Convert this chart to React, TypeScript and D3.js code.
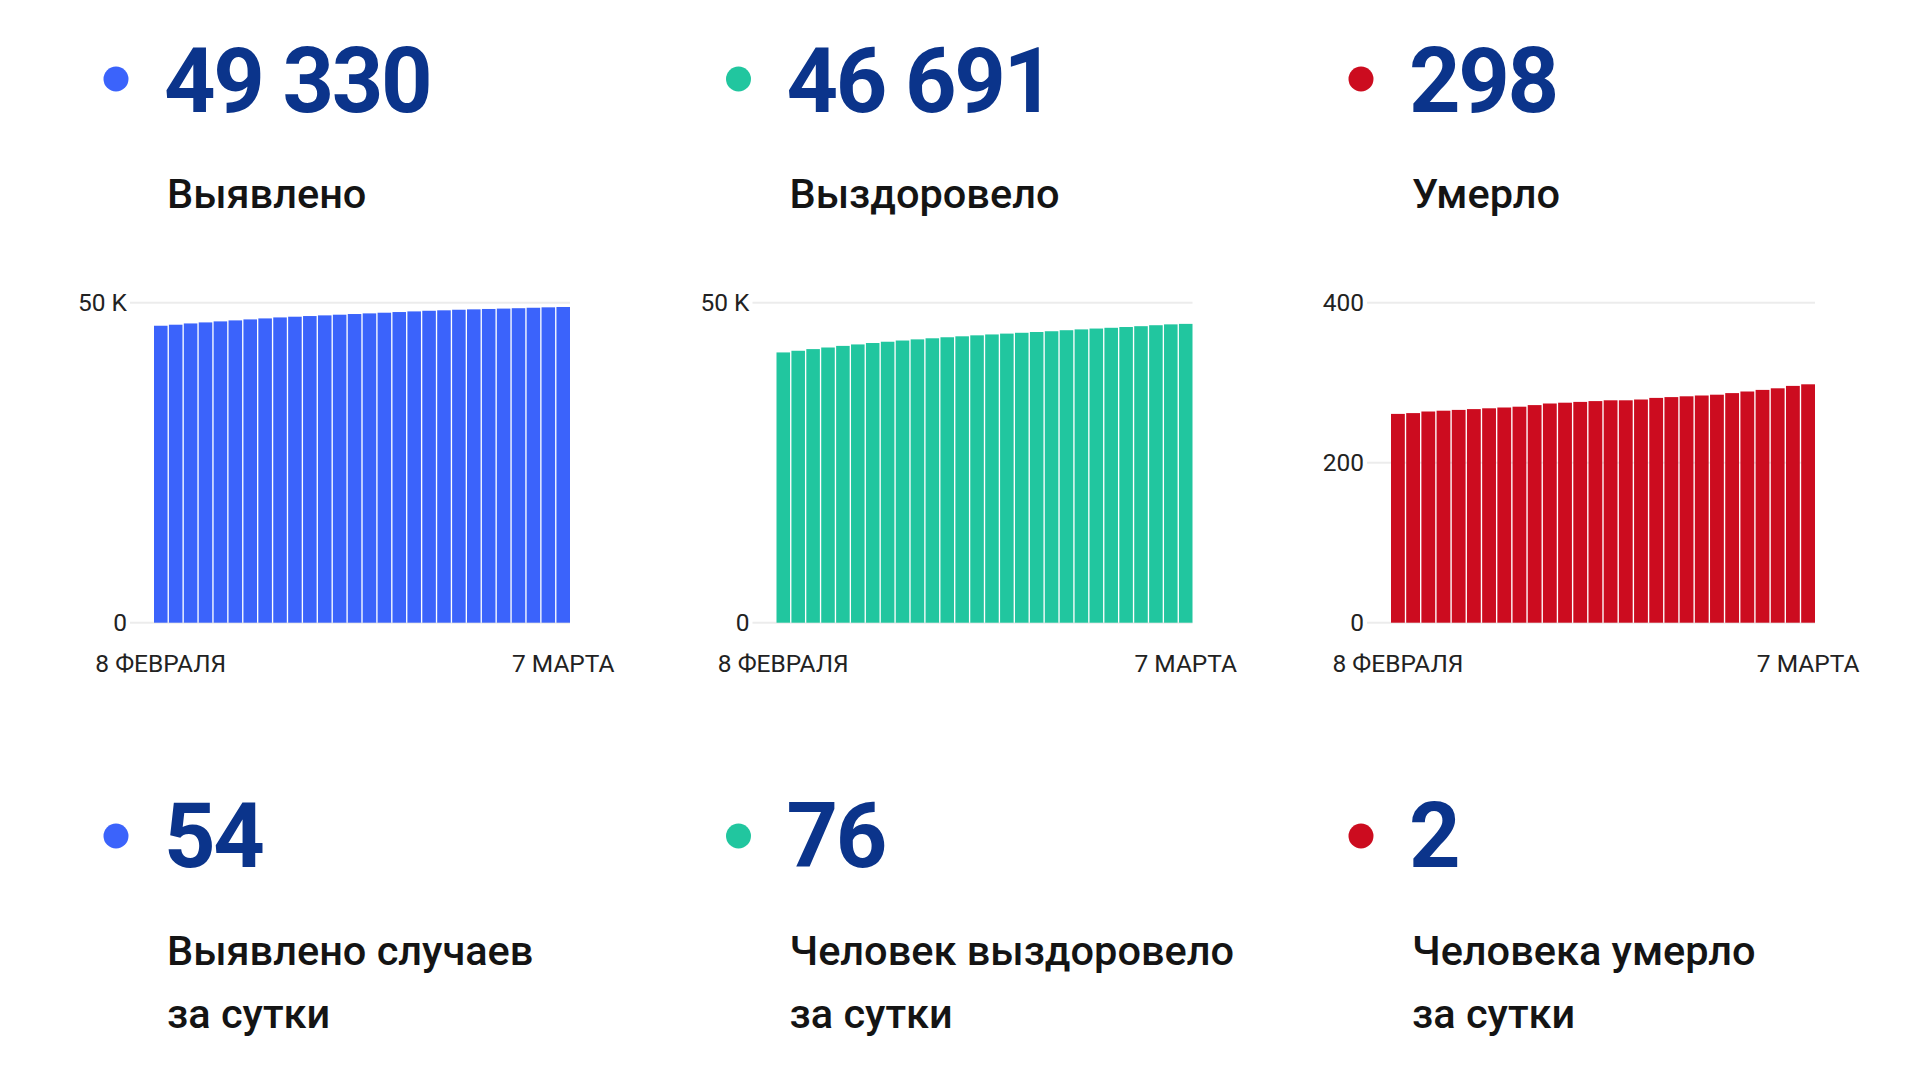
import React from "react";
import * as d3 from "d3";

const dates: Date[] = d3.timeDay.range(new Date(2021, 1, 8), new Date(2021, 2, 8));

const detected = [46400, 46560, 46760, 46920, 47080, 47235, 47390, 47545, 47700, 47810, 47915, 48020, 48125, 48230, 48330, 48435, 48540, 48640, 48740, 48810, 48900, 48960, 49020, 49080, 49140, 49210, 49276, 49330];
const recovered = [42230, 42490, 42750, 43000, 43250, 43480, 43700, 43900, 44090, 44270, 44440, 44600, 44750, 44900, 45040, 45170, 45300, 45420, 45540, 45700, 45830, 45960, 46080, 46200, 46330, 46480, 46615, 46691];
const died = [261, 262, 264, 265, 266, 267, 268, 269, 270, 272, 274, 275, 276, 277, 278, 278, 279, 281, 282, 283, 284, 285, 287, 289, 291, 293, 296, 298];

const totals = ["49 330", "46 691", "298"];
const totalLabels = ["Выявлено", "Выздоровело", "Умерло"];
const daily = ["54", "76", "2"];
const dailyLabels = [
  ["Выявлено случаев", "за сутки"],
  ["Человек выздоровело", "за сутки"],
  ["Человека умерло", "за сутки"],
];
const yMaxes = [50000, 50000, 400];
const yTicks = [[0, 50000], [0, 50000], [0, 200, 400]];
const yTickLabels = [["0", "50 K"], ["0", "50 K"], ["0", "200", "400"]];
const xLabels = ["8 ФЕВРАЛЯ", "7 МАРТА"];
const colors = ["#3b63fb", "#21c69f", "#cc0c1f"];
const series = [detected, recovered, died];

const NUM_COLOR = "#0b348b";
const FONT = "Roboto, 'Noto Sans', sans-serif";
const LABEL_SIZE = 41.5;
const AXIS_SIZE = 24.5;

function Panel({ idx }: { idx: number }) {
  const px = idx * 622.5;
  const data = series[idx];
  const color = colors[idx];
  const labelRight = idx === 2 ? 118 : 126;
  const gridStart = labelRight + 4;
  const barStart = gridStart + 24;
  const barEnd = 570;
  const y = d3.scaleLinear().domain([0, yMaxes[idx]]).range([622.7, 302.7]);
  const x = d3
    .scaleBand<number>()
    .domain(d3.range(data.length))
    .range([barStart, barEnd])
    .paddingInner(0.09)
    .paddingOuter(0);
  const fmt = d3.timeFormat("%d");
  return (
    <g transform={`translate(${px},0)`}>
      <circle cx={116} cy={79} r={12.5} fill={color} />
      <text x={164} y={112} fontFamily={FONT} fontWeight={700} fontSize={90} fill={NUM_COLOR} letterSpacing={-2.4}>
        {totals[idx]}
      </text>
      <text x={167} y={208} fontFamily={FONT} fontWeight={500} fontSize={LABEL_SIZE} fill="#141414">
        {totalLabels[idx]}
      </text>
      {yTicks[idx].map((t, i) => (
        <g key={t}>
          <line x1={gridStart} x2={barEnd} y1={y(t)} y2={y(t)} stroke="#ececec" strokeWidth={2} />
          <text x={labelRight + 1} y={y(t) + 8.5} textAnchor="end" fontFamily={FONT} fontSize={AXIS_SIZE} fill="#222">
            {yTickLabels[idx][i]}
          </text>
        </g>
      ))}
      {data.map((v, i) => (
        <rect
          key={fmt(dates[i]) + i}
          x={x(i)}
          y={y(v)}
          width={x.bandwidth()}
          height={y(0) - y(v)}
          fill={color}
        />
      ))}
      <text x={(x(0) as number) + x.bandwidth() / 2} y={672} textAnchor="middle" fontFamily={FONT} fontSize={AXIS_SIZE} fill="#222">
        {xLabels[0]}
      </text>
      <text x={(x(data.length - 1) as number) + x.bandwidth() / 2} y={672} textAnchor="middle" fontFamily={FONT} fontSize={AXIS_SIZE} fill="#222">
        {xLabels[1]}
      </text>
      <circle cx={116} cy={836} r={12.5} fill={color} />
      <text x={164} y={867} fontFamily={FONT} fontWeight={700} fontSize={90} fill={NUM_COLOR} letterSpacing={-2.4}>
        {daily[idx]}
      </text>
      <text x={167} y={965} fontFamily={FONT} fontWeight={500} fontSize={LABEL_SIZE} fill="#141414">
        {dailyLabels[idx][0]}
      </text>
      <text x={167} y={1028} fontFamily={FONT} fontWeight={500} fontSize={LABEL_SIZE} fill="#141414">
        {dailyLabels[idx][1]}
      </text>
    </g>
  );
}

export default function App() {
  return (
    <svg
      width={1920}
      height={1080}
      viewBox="0 0 1920 1080"
      style={{ position: "absolute", left: 0, top: 0, background: "#fff" }}
    >
      <rect width={1920} height={1080} fill="#fff" />
      {[0, 1, 2].map((i) => (
        <Panel key={i} idx={i} />
      ))}
    </svg>
  );
}
